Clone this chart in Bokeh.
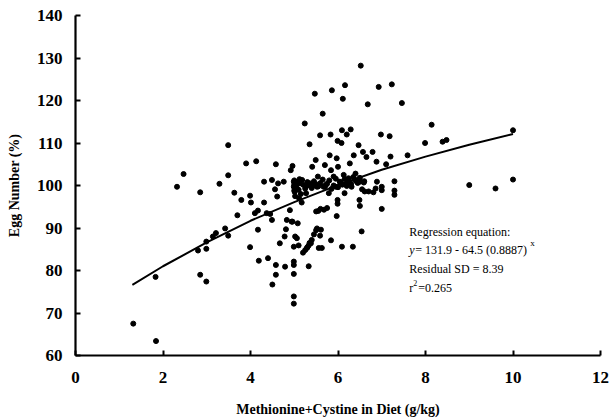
from bokeh.plotting import figure
from bokeh.models import Range1d, FixedTicker, Label, ColumnDataSource
from bokeh.embed import file_html
from bokeh.resources import INLINE

# Observed data: Methionine+Cystine (g/kg) vs Egg Number (%)
met_cys = [
    1.32, 1.84, 1.83, 2.32, 2.47, 2.85, 2.80, 2.85, 2.99, 2.99, 2.99, 3.14, 3.21, 3.29,
    3.42, 3.49, 3.49, 3.49, 3.63, 3.70, 3.79, 3.90, 3.99, 3.99, 4.01, 4.10, 4.13, 4.17,
    4.17, 4.19, 4.31, 4.31, 4.37, 4.40, 4.45, 4.49, 4.49, 4.50, 4.56, 4.58, 4.58, 4.58,
    4.61, 4.63, 4.67, 4.76, 4.78, 4.79, 4.81, 4.83, 4.90, 4.92, 4.94, 4.96, 4.96, 4.99,
    4.99, 4.99, 4.99, 4.99, 4.99, 4.99, 4.99, 5.01, 5.02, 5.06, 5.10, 5.08,
    5.11, 5.11, 5.17, 5.18, 5.20, 5.24, 5.26, 5.27, 5.29, 5.33, 5.33, 5.35, 5.36, 5.38,
    5.41, 5.45, 5.47, 5.49, 5.50, 5.52, 5.52, 5.54, 5.56, 5.59, 5.59, 5.61, 5.63, 5.65,
    5.67, 5.68, 5.70, 5.72, 5.75, 5.79, 5.81, 5.83, 5.84, 5.84, 5.86, 5.90, 5.95, 5.97,
    5.97, 5.99, 5.99, 5.99, 6.00, 6.04, 6.08, 6.09, 6.09, 6.11, 6.13, 6.15, 6.16, 6.20,
    6.20, 6.24, 6.27, 6.29, 6.31, 6.34, 6.36, 6.40, 6.43, 6.47, 6.49, 6.50, 6.50, 6.52,
    6.54, 6.57, 6.59, 6.61, 6.65, 6.68, 6.70, 6.79, 6.81, 6.86, 6.88, 6.89, 6.93, 6.98,
    7.00, 7.00, 7.00, 7.10, 7.18, 7.20, 7.23, 7.29, 7.29, 7.29, 7.46, 7.59, 7.99, 8.14,
    8.39, 8.48, 9.00, 9.60, 10.0, 10.0,
    5.00, 5.00, 5.00, 5.02, 5.05, 5.08, 5.10, 5.12, 5.15, 5.20, 5.25, 5.30, 5.35, 5.40,
    5.45, 5.50, 5.55, 5.60, 5.65, 5.70, 5.75, 5.80, 5.85, 5.90, 5.95, 6.00, 6.05, 6.10,
    6.15, 6.20, 6.25, 6.30, 6.35, 6.40, 6.45, 6.50, 6.55, 6.60,
    5.25, 5.30, 5.35, 5.40, 5.45, 5.50, 5.55, 5.60,
]
egg_number = [
    67.5, 63.4, 78.5, 99.7, 102.7, 98.4, 84.7, 79.0, 77.4, 85.1, 86.8, 88.0, 88.8, 100.4,
    89.9, 109.5, 102.4, 88.2, 98.3, 93.0, 96.6, 105.2, 97.6, 85.5, 96.0, 93.5, 105.7, 94.1,
    89.6, 82.3, 96.0, 100.9, 93.5, 82.9, 93.3, 101.3, 91.9, 76.7, 99.1, 105.0, 81.3, 79.0,
    97.4, 100.5, 86.4, 100.9, 88.0, 80.9, 89.7, 91.9, 94.2, 103.6, 91.5, 104.6, 91.5, 85.6,
    82.1, 81.3, 79.2, 73.9, 72.2, 100.9, 99.7, 98.5, 88.0, 87.6, 85.9, 91.1,
    100.5, 97.0, 96.0, 101.3, 84.2, 114.6, 99.7, 98.2, 85.3, 81.0, 85.9, 109.7, 100.5, 86.4,
    104.4, 100.1, 121.6, 106.0, 93.9, 89.9, 99.7, 102.1, 85.3, 111.8, 88.2, 89.6, 85.3, 116.9,
    99.7, 94.3, 104.8, 100.1, 94.7, 98.2, 107.1, 112.0, 87.1, 103.6, 122.4, 102.1, 99.7, 106.4,
    92.8, 96.6, 95.7, 110.5, 104.4, 100.9, 110.0, 85.6, 113.0, 120.4, 102.5, 98.2, 123.6, 112.0,
    100.5, 101.7, 105.2, 113.2, 99.7, 85.6, 107.1, 102.8, 100.9, 109.5, 96.6, 95.2, 100.9, 128.2,
    89.2, 107.9, 100.7, 98.6, 106.7, 119.1, 98.6, 107.9, 98.4, 99.3, 105.6, 100.9, 123.2, 112.0,
    99.7, 98.9, 94.5, 105.0, 111.6, 106.8, 123.8, 101.0, 98.8, 97.8, 119.4, 107.1, 110.0, 114.3,
    110.3, 110.7, 100.1, 99.3, 113.0, 101.4,
    101.2, 100.2, 98.8, 97.5, 99.5, 100.8, 99.0, 101.5, 98.0, 100.2, 99.3, 100.8, 100.0, 99.4,
    101.0, 100.3, 99.8, 100.6, 101.4, 99.7, 100.4, 101.2, 99.2, 100.0, 101.6, 99.6, 100.8, 100.2,
    101.5, 99.9, 101.1, 100.4, 102.0, 101.3, 100.6, 101.8, 99.1, 101.0,
    84.8, 85.5, 86.5, 87.2, 88.5, 89.5, 94.0, 94.5,
]

# Fitted regression curve
curve_x = [1.3, 2, 3, 4, 5, 6, 7, 8, 9, 10]
curve_y = [76.6, 81.0, 86.6, 91.7, 96.1, 100.1, 103.7, 106.8, 109.6, 112.1]

x_ticks = [0, 2, 4, 6, 8, 10, 12]
y_ticks = [60, 70, 80, 90, 100, 110, 120, 130, 140]

p = figure(width=614, height=420, output_backend="svg", toolbar_location=None,
           x_range=Range1d(0, 12), y_range=Range1d(60, 140),
           min_border_left=75, min_border_right=14, min_border_top=15, min_border_bottom=65)
p.outline_line_color = None
p.xgrid.visible = False
p.ygrid.visible = False
p.background_fill_color = "white"
p.border_fill_color = "white"

serif = "Liberation Serif"
for ax in (p.xaxis[0], p.yaxis[0]):
    ax.axis_line_width = 2.2
    ax.axis_line_color = "black"
    ax.major_tick_in = 5
    ax.major_tick_out = 0
    ax.major_tick_line_width = 2
    ax.minor_tick_line_color = None
    ax.major_label_text_font = serif
    ax.major_label_text_font_style = "bold"
    ax.major_label_text_font_size = "17px"
    ax.major_label_text_color = "black"
    ax.axis_label_text_font = serif
    ax.axis_label_text_font_style = "bold"
    ax.axis_label_text_font_size = "14px"
    ax.axis_label_text_color = "black"

p.xaxis.ticker = FixedTicker(ticks=x_ticks)
p.yaxis.ticker = FixedTicker(ticks=y_ticks)
p.xaxis.axis_label = "Methionine+Cystine in Diet (g/kg)"
p.yaxis.axis_label = "Egg Number (%)"
p.xaxis.major_label_standoff = 16
p.yaxis.major_label_standoff = 13
p.xaxis.axis_label_standoff = 16
p.yaxis.axis_label_standoff = 12

src = ColumnDataSource(dict(x=met_cys, y=egg_number))
p.scatter("x", "y", source=src, size=5, color="black")
p.line(curve_x, curve_y, line_color="black", line_width=2)

def lab(x, y, text, size="12px", style="normal", dx=0, dy=0):
    p.add_layout(Label(x=x, y=y, text=text, text_font=serif, text_font_size=size,
                       text_font_style=style, text_color="black",
                       x_offset=dx, y_offset=dy, text_baseline="middle"))

lab(7.63, 89.0, "Regression equation:")
lab(7.63, 84.9, "y", style="italic")
lab(7.63, 84.9, "= 131.9 - 64.5 (0.8887)", dx=6)
lab(7.63, 84.9, "x", size="9px", dx=121, dy=7)
lab(7.63, 80.3, "Residual SD = 8.39")
lab(7.63, 75.9, "r")
lab(7.63, 75.9, "2", size="8px", dx=4, dy=5)
lab(7.63, 75.9, "=0.265", dx=9)

open("out.html", "w").write(file_html(p, INLINE))
